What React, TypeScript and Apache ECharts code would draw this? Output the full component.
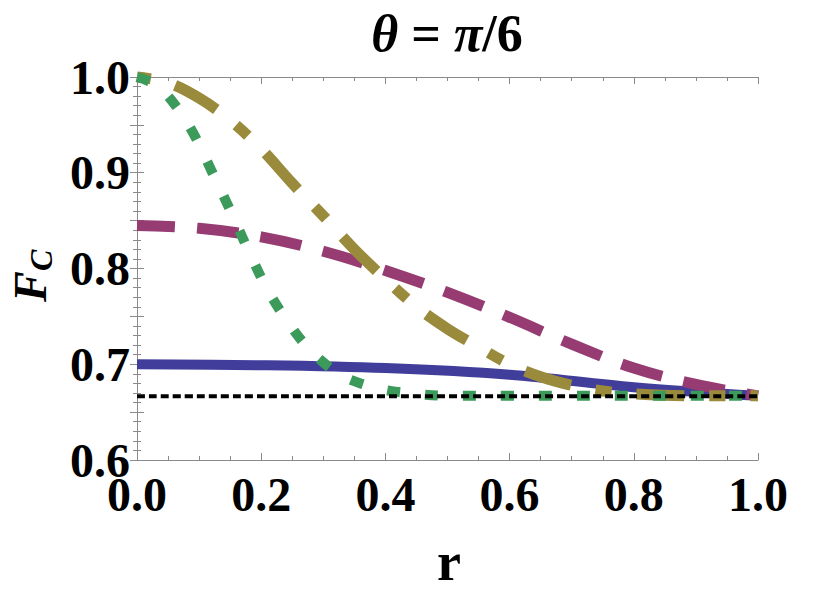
import React, { useEffect, useRef } from "react";
import * as echarts from "echarts";

const blueR = [0, 0.2, 0.4, 0.6, 0.8, 1.0];
const blueV = [0.7, 0.699, 0.696, 0.689, 0.676, 0.667];

const magR = [0, 0.1, 0.2, 0.3, 0.4, 0.5, 0.6, 0.7, 0.8, 0.9, 1.0];
const magV = [0.845, 0.842, 0.833, 0.818, 0.798, 0.775, 0.749, 0.721, 0.696, 0.679, 0.667];

const oliveR = [0, 0.05, 0.1, 0.15, 0.2, 0.25, 0.3, 0.35, 0.4, 0.45, 0.5, 0.55, 0.6, 0.65, 0.7, 0.75, 0.8, 0.9, 1.0];
const oliveV = [1.0, 0.994, 0.978, 0.955, 0.925, 0.889, 0.855, 0.82, 0.789, 0.76, 0.737, 0.718, 0.7, 0.687, 0.678, 0.672, 0.669, 0.667, 0.667];

const greenR = [0, 0.03, 0.06, 0.09, 0.12, 0.15, 0.18, 0.21, 0.24, 0.27, 0.3, 0.33, 0.36, 0.4, 0.45, 0.5, 0.6, 0.7, 0.8, 0.9, 1.0];
const greenV = [1.0, 0.992, 0.972, 0.942, 0.902, 0.861, 0.818, 0.778, 0.747, 0.721, 0.702, 0.688, 0.68, 0.673, 0.669, 0.667, 0.667, 0.667, 0.667, 0.667, 0.667];

const refR = [0, 1];
const refV = [0.6667, 0.6667];

const xTicks = [0, 0.2, 0.4, 0.6, 0.8, 1.0];
const yTicks = [0.6, 0.7, 0.8, 0.9, 1.0];

const pts = (r: number[], v: number[]) => r.map((x, i) => [x, v[i]]);

const FONT = "'Liberation Serif', 'Times New Roman', serif";
const GRAY = "#8a8a8a";

export default function App() {
  const ref = useRef<HTMLDivElement>(null);
  useEffect(() => {
    if (!ref.current) return;
    const chart = echarts.init(ref.current, undefined, { renderer: "svg" });
    const isTick = (arr: number[], v: number) => arr.some((t) => Math.abs(t - v) < 1e-6);
    const xAxisBase = {
      type: "value",
      min: 0,
      max: 1,
      interval: 0.2,
      splitLine: { show: false },
      axisLine: { show: true, lineStyle: { color: GRAY, width: 1 } },
      axisTick: { show: true, inside: true, length: 7, lineStyle: { color: GRAY } },
      minorTick: { show: true, splitNumber: 4, length: 4, lineStyle: { color: GRAY } },
      minorSplitLine: { show: false },
    };
    const yAxisBase = {
      type: "value",
      min: 0.6,
      max: 1.0,
      interval: 0.05,
      splitLine: { show: false },
      axisLine: { show: true, lineStyle: { color: GRAY, width: 1 } },
      axisTick: { show: true, inside: true, length: 7, lineStyle: { color: GRAY } },
      minorTick: { show: true, splitNumber: 5, length: 4, lineStyle: { color: GRAY } },
      minorSplitLine: { show: false },
    };
    const line = (data: number[][], color: string, width: number, type: any, offset: number, z: number) => ({
      type: "line",
      data,
      xAxisIndex: 0,
      yAxisIndex: 0,
      smooth: 0.35,
      showSymbol: false,
      symbol: "none",
      clip: false,
      z,
      lineStyle: { color, width, type, dashOffset: offset, cap: "butt", join: "round" },
    });
    chart.setOption({
      animation: false,
      backgroundColor: "#ffffff",
      grid: { left: 137, right: 76, top: 77, bottom: 132, containLabel: false },
      xAxis: [
        {
          ...xAxisBase,
          position: "bottom",
          axisLabel: {
            show: true,
            margin: 10,
            color: "#000",
            fontFamily: FONT,
            fontWeight: "bold",
            fontSize: 48,
            formatter: (v: number) => (isTick(xTicks, v) ? v.toFixed(1) : ""),
          },
        },
        { ...xAxisBase, position: "top", axisLabel: { show: false } },
      ],
      yAxis: [
        {
          ...yAxisBase,
          position: "left",
          axisLabel: {
            show: true,
            margin: 7,
            color: "#000",
            fontFamily: FONT,
            fontWeight: "bold",
            fontSize: 48,
            formatter: (v: number) => (isTick(yTicks, v) ? v.toFixed(1) : ""),
          },
        },
        { ...yAxisBase, position: "right", axisLabel: { show: false } },
      ],
      series: [
        line(pts(blueR, blueV), "#413d9b", 10, "solid", 0, 2),
        line(pts(magR, magV), "#963c72", 11, [42, 22], 4, 3),
        line(pts(oliveR, oliveV), "#9a8b3c", 11, [48, 25, 16, 25], 75, 4),
        line(pts(greenR, greenV), "#3c9b5a", 10, [13, 25], 0, 5),
        line(pts(refR, refV), "#000000", 4, [8, 4], 0, 6),
      ],
      graphic: [
        {
          type: "text",
          x: 447,
          y: 33,
          style: {
            text: "{i|θ} = {i|π}/6",
            align: "center",
            verticalAlign: "middle",
            fontFamily: FONT,
            fontWeight: "bold",
            fontSize: 52,
            fill: "#000",
            rich: {
              i: { fontFamily: FONT, fontWeight: "bold", fontStyle: "italic", fontSize: 52, fill: "#000" },
            },
          },
        },
        {
          type: "text",
          x: 449,
          y: 562,
          style: {
            text: "r",
            align: "center",
            verticalAlign: "middle",
            fontFamily: FONT,
            fontWeight: "bold",
            fontSize: 54,
            fill: "#000",
          },
        },
        {
          type: "group",
          x: 30,
          y: 302,
          rotation: Math.PI / 2,
          children: [
            {
              type: "text",
              x: 0,
              y: 0,
              style: {
                text: "F",
                align: "left",
                verticalAlign: "middle",
                fontFamily: FONT,
                fontWeight: "bold",
                fontStyle: "italic",
                fontSize: 46,
                fill: "#000",
              },
            },
            {
              type: "text",
              x: 31,
              y: 11,
              style: {
                text: "C",
                align: "left",
                verticalAlign: "middle",
                fontFamily: FONT,
                fontWeight: "bold",
                fontStyle: "italic",
                fontSize: 32,
                fill: "#000",
              },
            },
          ],
        },
      ],
    });
    return () => chart.dispose();
  }, []);
  return (
    <div
      ref={ref}
      style={{ position: "fixed", left: 0, top: 0, width: 834, height: 592, background: "#fff" }}
    />
  );
}
